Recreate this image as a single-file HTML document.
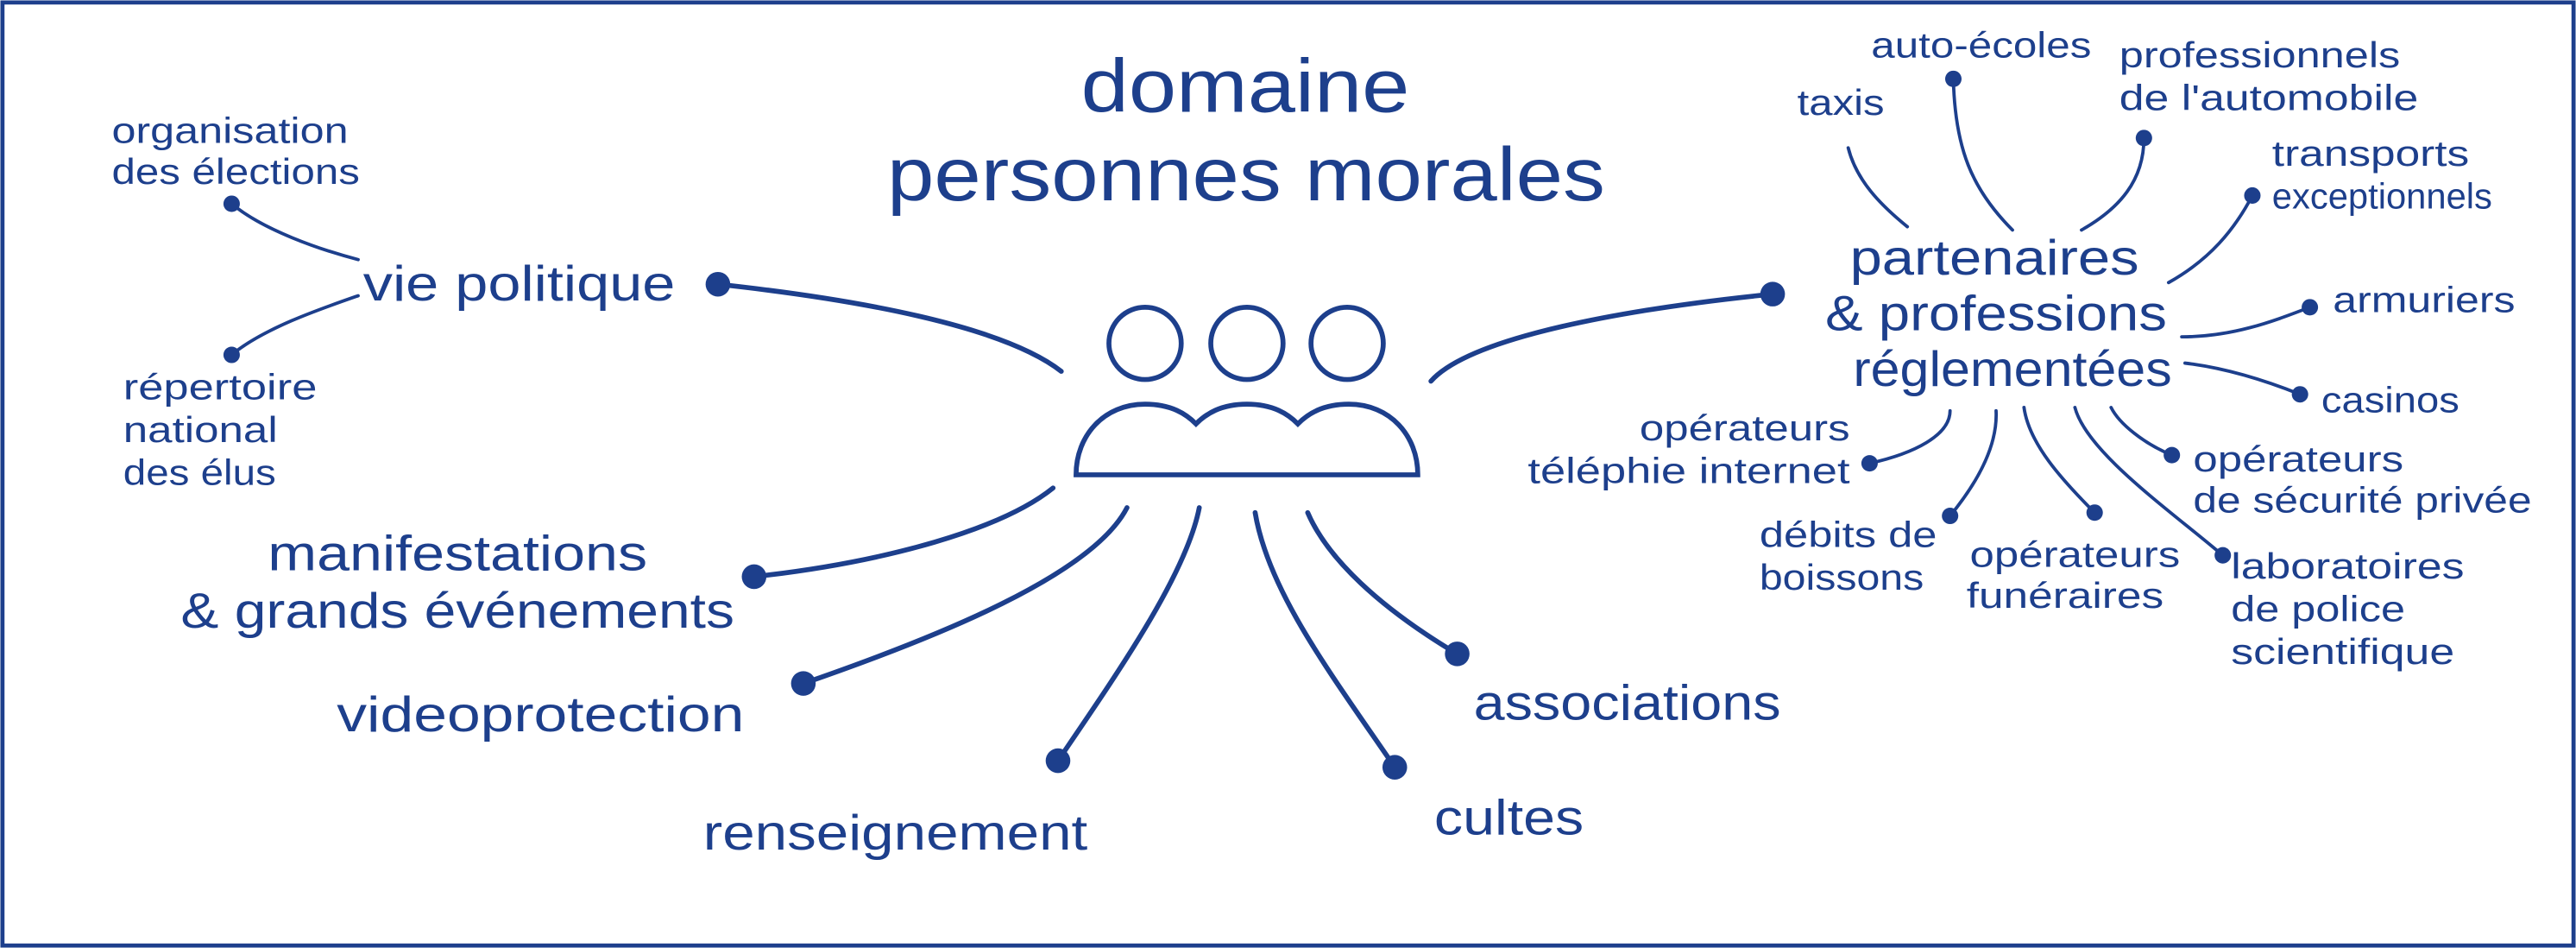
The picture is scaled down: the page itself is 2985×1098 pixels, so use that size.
<!DOCTYPE html>
<html><head><meta charset="utf-8"><style>
html,body{margin:0;padding:0;background:#fff;}
svg{display:block;}
text{font-family:"Liberation Sans","DejaVu Sans",sans-serif;fill:#1d3f8c;}
</style></head><body>
<svg width="2985" height="1098" viewBox="0 0 1568 577" preserveAspectRatio="none" xmlns="http://www.w3.org/2000/svg">
<rect x="1.5" y="1.5" width="1565" height="574" fill="#fff" stroke="#1d3f8c" stroke-width="2.5"/>
<g fill="none" stroke="#1d3f8c" stroke-width="3" stroke-linecap="round">
<circle cx="697" cy="209" r="22"/><circle cx="759" cy="209" r="22"/><circle cx="820" cy="209" r="22"/>
<path d="M655,289 C655,265 672,246 697,246 C713,246 722,252 728,258 C734,252 743,246 759,246 C775,246 784,252 790,258 C796,252 805,246 821,246 C846,246 863,265 863,289 Z"/>
<path d="M437,173 C520,182 610,198 646,226"/>
<path d="M459,351 C540,342 610,322 641,297"/>
<path d="M489,416 C570,388 665,350 686,309"/>
<path d="M644,463 C680,410 722,350 730,309"/>
<path d="M849,467 C810,410 772,360 764,312"/>
<path d="M887,398 C840,370 808,340 796,312"/>
<path d="M1079,179 C990,188 895,205 871,232"/>
</g>
<g fill="none" stroke="#1d3f8c" stroke-width="2" stroke-linecap="round">
<path d="M141,124 C160,140 195,152 218,158"/>
<path d="M141,216 C160,200 195,188 218,180"/>
<path d="M1125,90 C1130,110 1145,125 1161,138"/>
<path d="M1189,48 C1190,90 1200,115 1225,140"/>
<path d="M1305,84 C1305,110 1290,127 1267,140"/>
<path d="M1371,119 C1360,140 1345,158 1320,172"/>
<path d="M1406,187 C1385,195 1360,205 1328,205"/>
<path d="M1400,240 C1380,232 1355,224 1330,221"/>
<path d="M1322,277 C1305,270 1290,258 1285,248"/>
<path d="M1353,338 C1320,310 1270,275 1263,248"/>
<path d="M1275,312 C1255,292 1235,270 1232,248"/>
<path d="M1187,314 C1205,292 1216,270 1215,250"/>
<path d="M1138,282 C1165,276 1187,265 1187,250"/>
</g>
<g fill="#1d3f8c">
<circle cx="437" cy="173" r="7.5"/><circle cx="459" cy="351" r="7.5"/><circle cx="489" cy="416" r="7.5"/>
<circle cx="644" cy="463" r="7.5"/><circle cx="849" cy="467" r="7.5"/><circle cx="887" cy="398" r="7.5"/>
<circle cx="1079" cy="179" r="7.5"/>
<circle cx="141" cy="124" r="5"/><circle cx="141" cy="216" r="5"/>
<circle cx="1189" cy="48" r="5"/><circle cx="1305" cy="84" r="5"/><circle cx="1371" cy="119" r="5"/>
<circle cx="1406" cy="187" r="5"/><circle cx="1400" cy="240" r="5"/><circle cx="1322" cy="277" r="5"/>
<circle cx="1353" cy="338" r="5"/><circle cx="1275" cy="312" r="5"/><circle cx="1187" cy="314" r="5"/>
<circle cx="1138" cy="282" r="5"/>
</g>
<g font-size="46" lengthAdjust="spacingAndGlyphs">
<text x="658" y="68" textLength="200" lengthAdjust="spacingAndGlyphs">domaine</text>
<text x="540" y="122" textLength="437" lengthAdjust="spacingAndGlyphs">personnes morales</text>
</g>
<g font-size="30">
<text x="221" y="183" textLength="190" lengthAdjust="spacingAndGlyphs">vie politique</text>
<text x="163" y="347" textLength="231" lengthAdjust="spacingAndGlyphs">manifestations</text>
<text x="110" y="382" textLength="337" lengthAdjust="spacingAndGlyphs">&amp; grands événements</text>
<text x="205" y="445" textLength="248" lengthAdjust="spacingAndGlyphs">videoprotection</text>
<text x="428" y="517" textLength="234" lengthAdjust="spacingAndGlyphs">renseignement</text>
<text x="873" y="508" textLength="91" lengthAdjust="spacingAndGlyphs">cultes</text>
<text x="897" y="438" textLength="187" lengthAdjust="spacingAndGlyphs">associations</text>
<text x="1126" y="167" textLength="176" lengthAdjust="spacingAndGlyphs">partenaires</text>
<text x="1111" y="201" textLength="208" lengthAdjust="spacingAndGlyphs">&amp; professions</text>
<text x="1128" y="235" textLength="194" lengthAdjust="spacingAndGlyphs">réglementées</text>
</g>
<g font-size="22">
<text x="68" y="87" textLength="144" lengthAdjust="spacingAndGlyphs">organisation</text>
<text x="68" y="112" textLength="151" lengthAdjust="spacingAndGlyphs">des élections</text>
<text x="75" y="243" textLength="118" lengthAdjust="spacingAndGlyphs">répertoire</text>
<text x="75" y="269" textLength="94" lengthAdjust="spacingAndGlyphs">national</text>
<text x="75" y="295" textLength="93" lengthAdjust="spacingAndGlyphs">des élus</text>
<text x="1094" y="70" textLength="53" lengthAdjust="spacingAndGlyphs">taxis</text>
<text x="1139" y="35" textLength="134" lengthAdjust="spacingAndGlyphs">auto-écoles</text>
<text x="1290" y="41" textLength="171" lengthAdjust="spacingAndGlyphs">professionnels</text>
<text x="1290" y="67" textLength="182" lengthAdjust="spacingAndGlyphs">de l'automobile</text>
<text x="1383" y="101" textLength="120" lengthAdjust="spacingAndGlyphs">transports</text>
<text x="1383" y="127" textLength="134" lengthAdjust="spacingAndGlyphs">exceptionnels</text>
<text x="1420" y="190" textLength="111" lengthAdjust="spacingAndGlyphs">armuriers</text>
<text x="1413" y="251" textLength="84" lengthAdjust="spacingAndGlyphs">casinos</text>
<text x="1335" y="287" textLength="128" lengthAdjust="spacingAndGlyphs">opérateurs</text>
<text x="1335" y="312" textLength="206" lengthAdjust="spacingAndGlyphs">de sécurité privée</text>
<text x="1358" y="352" textLength="142" lengthAdjust="spacingAndGlyphs">laboratoires</text>
<text x="1358" y="378" textLength="106" lengthAdjust="spacingAndGlyphs">de police</text>
<text x="1358" y="404" textLength="136" lengthAdjust="spacingAndGlyphs">scientifique</text>
<text x="1199" y="345" textLength="128" lengthAdjust="spacingAndGlyphs">opérateurs</text>
<text x="1197" y="370" textLength="120" lengthAdjust="spacingAndGlyphs">funéraires</text>
<text x="1071" y="333" textLength="108" lengthAdjust="spacingAndGlyphs">débits de</text>
<text x="1071" y="359" textLength="100" lengthAdjust="spacingAndGlyphs">boissons</text>
<text x="998" y="268" textLength="128" lengthAdjust="spacingAndGlyphs">opérateurs</text>
<text x="930" y="294" textLength="196" lengthAdjust="spacingAndGlyphs">téléphie internet</text>
</g>
</svg>
</body></html>
